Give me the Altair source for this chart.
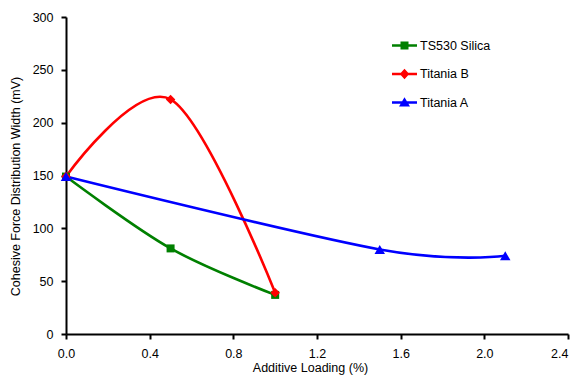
import altair as alt
import pandas as pd

series_names = ["TS530 Silica", "Titania B", "Titania A"]
series_colors = ["#008000", "#FF0000", "#0000FF"]

silica_x = [0.0, 0.5, 1.0]
silica_y = [149, 81, 37]
titania_b_x = [0.0, 0.5, 1.0]
titania_b_y = [149, 222, 39]
titania_a_x = [0.0, 1.5, 2.1]
titania_a_y = [149, 80, 74]

x_ticks = [0.0, 0.4, 0.8, 1.2, 1.6, 2.0, 2.4]
y_ticks = [0, 50, 100, 150, 200, 250, 300]

rows = []
for name, xs, ys in [
    (series_names[0], silica_x, silica_y),
    (series_names[1], titania_b_x, titania_b_y),
    (series_names[2], titania_a_x, titania_a_y),
]:
    for xv, yv in zip(xs, ys):
        rows.append({"series": name, "x": xv, "y": yv})
df = pd.DataFrame(rows)

FONT = "Liberation Sans"

x_enc = alt.X("x:Q", scale=alt.Scale(domain=[0, 2.4], nice=False, zero=False),
              axis=alt.Axis(values=x_ticks, format=".1f", title="Additive Loading (%)",
                            titleX=244, titleY=27, labelFlush=False,
                            labelAlign={"condition": {"test": "datum.value > 2.35", "value": "right"},
                                        "value": "center"}))
y_enc = alt.Y("y:Q", scale=alt.Scale(domain=[0, 300], nice=False),
              axis=alt.Axis(values=y_ticks, title="Cohesive Force Distribution Width (mV)",
                            titleX=-44, titleY=169, labelFlush=False))

base = alt.Chart(df)

shapes_std = ["square", "diamond", "triangle-up"]
sizes_std = [64, 90, 110]
line_layers = []
point_layers = []
for name, col, shp, sz in zip(series_names, series_colors, shapes_std, sizes_std):
    sub = base.transform_filter(alt.datum.series == name)
    line_layers.append(
        sub.mark_line(interpolate="cardinal", strokeWidth=2.6, color=col).encode(x=x_enc, y=y_enc)
    )
    point_layers.append(
        sub.mark_point(filled=True, shape=shp, size=sz, color=col, opacity=1).encode(x=x_enc, y=y_enc)
    )

legend_paths = [
    "M-1,-0.1L1,-0.1L1,0.1L-1,0.1Z M-0.32,-0.32L0.32,-0.32L0.32,0.32L-0.32,0.32Z",
    "M-1,-0.1L1,-0.1L1,0.1L-1,0.1Z M0,-0.42L0.38,0L0,0.42L-0.38,0Z",
    "M-1,-0.1L1,-0.1L1,0.1L-1,0.1Z M0,-0.42L0.44,0.32L-0.44,0.32Z",
]

leg = alt.Legend(title=None, orient="none", legendX=326, legendY=16,
                 symbolSize=625, symbolStrokeWidth=0, symbolOpacity=1,
                 labelOffset=3, rowPadding=9.5, padding=0,
                 labelFont=FONT, labelFontSize=12.5, labelColor="black")

legend_layer = base.mark_point(filled=True, opacity=0).encode(
    x=x_enc, y=y_enc,
    fill=alt.Fill("series:N", scale=alt.Scale(domain=series_names, range=series_colors), legend=leg),
    shape=alt.Shape("series:N", scale=alt.Scale(domain=series_names, range=legend_paths), legend=leg),
)

chart = alt.layer(*line_layers, *point_layers, legend_layer).properties(
    width=502, height=317,
    autosize=alt.AutoSizeParams(type="none"),
    padding={"left": 58, "top": 9, "right": 3, "bottom": 41},
).configure_view(stroke=None).configure_axis(
    grid=False,
    domainColor="black", domainWidth=2,
    tickColor="black", tickWidth=2, tickSize=5,
    labelFont=FONT, labelFontSize=12.5, labelColor="black",
    titleFont=FONT, titleFontSize=12.5, titleFontWeight="normal", titleColor="black",
).configure_axisX(labelPadding=8).configure_axisY(labelPadding=8)

chart.save("out.html", embed_options={"renderer": "svg", "actions": False})
